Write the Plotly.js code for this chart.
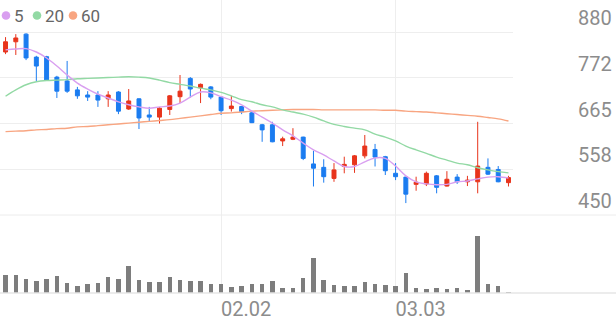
<!DOCTYPE html>
<html><head><meta charset="utf-8">
<script src="https://cdn.plot.ly/plotly-3.0.1.min.js"></script>
<style>html,body{margin:0;padding:0;background:#fff}#c{width:616px;height:321px}</style>
</head><body><div id="c"></div><script>
const openP=[833,857,875,821,822,774,765,744,732,732,723,739,699,723,685,680,698,728,771,749,751,727,700,705,690,662,662,624,628,633,570,562,536,564,568,589,604,587,548,539,522,523,542,518,539,528,528,562,557,526];
const highP=[868,875,877,824,824,777,812,751,741,741,741,741,746,724,704,703,732,779,774,759,753,728,730,705,694,664,669,634,654,634,601,581,572,587,591,638,617,589,572,540,540,552,544,553,546,542,669,583,565,542];
const lowP=[828,826,814,765,765,725,737,723,718,704,704,687,697,652,669,665,685,713,726,713,722,685,693,687,666,622,621,612,626,579,517,526,528,548,549,583,564,544,532,478,507,518,501,517,523,518,501,544,527,517];
const closeP=[857,866,819,800,767,741,741,730,727,720,732,694,718,678,680,701,730,741,746,757,727,695,706,693,667,650,622,629,633,583,560,540,556,569,589,612,586,554,540,499,527,548,515,534,528,532,565,546,528,538];
const ma5=[838,840,841,833,819,800,779,760,746,734,725,716,709,704,701,704,706,713,727,739,737,728,720,709,694,680,666,650,636,619,603,591,577,564,564,575,584,583,565,542,528,523,521,522,528,530,535,539,540,537];
const ma20=[729,744,756,763,766,767,768,770,771,772,773,774,775,774,772,767,761,757,753,748,744,738,730,721,716,709,704,697,692,687,680,671,663,658,654,650,640,633,624,612,603,595,586,579,572,568,561,556,552,549];
const ma60=[646,647,648,650,651,653,654,657,658,660,662,664,666,668,670,672,674,677,680,683,686,689,690,692,694,695,696,697,698,698,698,697,697,697,697,697,697,696,696,694,693,692,690,688,686,684,682,679,676,671];
const volume=[183000,177000,140000,117000,140000,167000,100000,73000,90000,100000,160000,140000,273000,127000,107000,107000,160000,127000,123000,117000,93000,90000,57000,73000,90000,90000,117000,50000,50000,155000,355000,127000,83000,67000,73000,107000,87000,77000,67000,200000,53000,43000,47000,43000,47000,33000,570000,87000,67000,13000];
const xTickIdx=[21,38];
const xTickText=['02.02','03.03'];
const yTickVals=[450,557.5,665,772.5,880];
const yTickText=['450','558','665','772','880'];
const maNames=['5','20','60'];
const maColors=['#d99ff0','#92d9a4','#f8a581'];

const xs=closeP.map((_,i)=>i);
const H=293, volFrac=78/H;
const traces=[
 {type:'scatter',mode:'lines',x:xs,y:ma60,line:{color:maColors[2],width:1.4,shape:'spline'},xaxis:'x',yaxis:'y',hoverinfo:'skip'},
 {type:'scatter',mode:'lines',x:xs,y:ma20,line:{color:maColors[1],width:1.4,shape:'spline'},xaxis:'x',yaxis:'y',hoverinfo:'skip'},
 {type:'scatter',mode:'lines',x:xs,y:ma5,line:{color:maColors[0],width:1.4,shape:'spline'},xaxis:'x',yaxis:'y',hoverinfo:'skip'},
 {type:'candlestick',x:xs,open:openP,high:highP,low:lowP,close:closeP,xaxis:'x',yaxis:'y',
  increasing:{line:{color:'#e8341c',width:1},fillcolor:'#e8341c'},
  decreasing:{line:{color:'#1b7cf0',width:1},fillcolor:'#1b7cf0'},whiskerwidth:0},
 {type:'bar',x:xs,y:volume,xaxis:'x',yaxis:'y2',marker:{color:'#7d7d7d'},width:0.44}
];
const font={family:'Roboto, sans-serif',size:20,color:'#8c8c8c'};
const shapes=[
 {type:'line',xref:'paper',yref:'paper',x0:0,x1:1,y0:volFrac,y1:volFrac,line:{color:'#ececec',width:1}},
 {type:'line',xref:'paper',yref:'paper',x0:0,x1:1,y0:0,y1:0,line:{color:'#e6e6e6',width:1.5}}
];
const dotX=[6,37,73], txtX=[12,43,79];
const annotations=[];
maNames.forEach((n,k)=>{
 shapes.push({type:'circle',xref:'paper',yref:'paper',xsizemode:'pixel',ysizemode:'pixel',
   xanchor:dotX[k]/616,yanchor:(H-15.5)/H,x0:-4.3,x1:4.3,y0:-4.3,y1:4.3,fillcolor:maColors[k],line:{width:0}});
 annotations.push({xref:'paper',yref:'paper',x:txtX[k]/616,y:(H-15.5)/H,xanchor:'left',yanchor:'middle',
   text:n,showarrow:false,font:{family:'Roboto, sans-serif',size:17,color:'#666'}});
});
const layout={
 width:616,height:321,margin:{l:0,r:0,t:0,b:28},paper_bgcolor:'#fff',plot_bgcolor:'#fff',
 showlegend:false,boxgap:0.45,bargap:0,
 xaxis:{domain:[0,513/616],range:[-0.54,49.44],anchor:'y2',tickmode:'array',tickvals:xTickIdx,ticktext:xTickText,
   showgrid:true,gridcolor:'#eeeeee',gridwidth:1,zeroline:false,showline:false,ticks:'',tickfont:font,
   ticklabelposition:'outside right',ticklabelstandoff:2,
   rangeslider:{visible:false},fixedrange:true},
 yaxis:{domain:[volFrac,1],range:[450,955.2],side:'right',anchor:'x',tickmode:'array',tickvals:yTickVals,ticktext:yTickText,
   showgrid:true,gridcolor:'#eeeeee',gridwidth:1,zeroline:false,showline:false,ticks:'',tickfont:font,
   ticklabelstandoff:64,ticklabelshift:-14,fixedrange:true},
 yaxis2:{domain:[0,volFrac],range:[0,780000],anchor:'x',showticklabels:false,showgrid:false,zeroline:false,showline:false,fixedrange:true},
 shapes:shapes,annotations:annotations
};
Plotly.newPlot('c',traces,layout,{staticPlot:true,displayModeBar:false});
</script></body></html>
